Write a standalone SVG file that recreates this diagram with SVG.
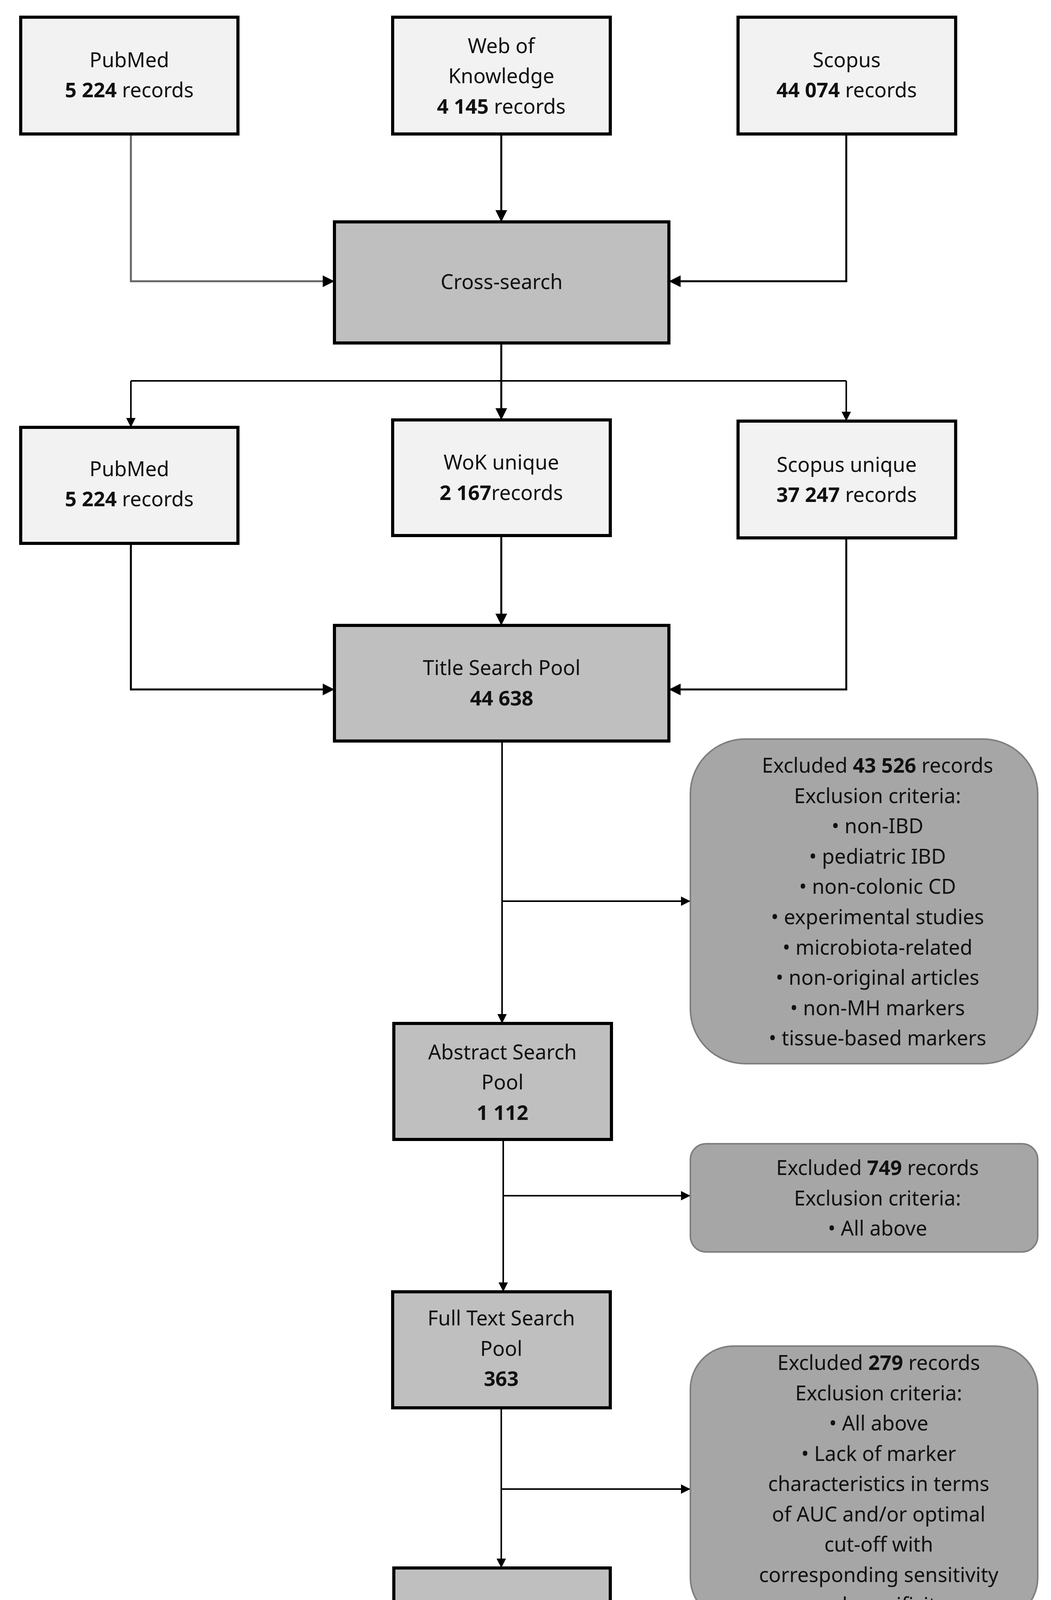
<svg xmlns="http://www.w3.org/2000/svg" width="2690" height="4337" viewBox="0 0 2690 4337">
<style>
text{font-family:"Noto Sans","Liberation Sans",sans-serif;font-size:52px;text-anchor:middle;fill:#111}
.b{font-weight:bold}
.l{fill:#f2f2f2;stroke:#000;stroke-width:8}
.m{fill:#bfbfbf;stroke:#000;stroke-width:8}
.x{fill:#a6a6a6;stroke:#7f7f7f;stroke-width:4}
.c{fill:none;stroke:#000;stroke-width:5}
</style>
<defs><marker id="a" viewBox="0 0 10 10" refX="10" refY="5" markerWidth="7" markerHeight="7" markerUnits="userSpaceOnUse" orient="auto"><path d="M0,0L10,5L0,10z" fill="#000"/></marker>
<marker id="ar" viewBox="0 0 10 10" refX="10" refY="5" markerWidth="6" markerHeight="6" orient="auto"><path d="M0,0L10,5L0,10z" fill="#000"/></marker></defs>
<g id="connectors">
<path class="c" d="M335,343V720H856" stroke="#666" style="stroke:#666" marker-end="url(#ar)"/>
<path class="c" d="M1283,343V568" marker-end="url(#ar)"/>
<path class="c" d="M2166,343V720H1712" marker-end="url(#ar)"/>
<path class="c" d="M1283,878V1075" marker-end="url(#ar)"/>
<path class="c" d="M335,975H2166" style="stroke-width:4"/>
<path class="c" d="M335,975V1094" style="stroke-width:4" marker-end="url(#ar)"/>
<path class="c" d="M2166,975V1078" style="stroke-width:4" marker-end="url(#ar)"/>
<path class="c" d="M335,1391V1765H856" marker-end="url(#ar)"/>
<path class="c" d="M1283,1371V1601" marker-end="url(#ar)"/>
<path class="c" d="M2166,1377V1765H1712" marker-end="url(#ar)"/>
<path class="c" d="M1285,1897V2620" style="stroke-width:4" marker-end="url(#ar)"/>
<path class="c" d="M1285,2307H1767" style="stroke-width:4" marker-end="url(#ar)"/>
<path class="c" d="M1288,2917V3307" style="stroke-width:4" marker-end="url(#ar)"/>
<path class="c" d="M1288,3061H1767" style="stroke-width:4" marker-end="url(#ar)"/>
<path class="c" d="M1283,3604V4014" style="stroke-width:4" marker-end="url(#ar)"/>
<path class="c" d="M1283,3812H1767" style="stroke-width:4" marker-end="url(#ar)"/>
</g>
<g id="pubmed1"><rect class="l" x="53" y="44" width="556" height="299"/><text x="331" y="172">PubMed</text><text x="331" y="249"><tspan class="b">5 224</tspan> records</text></g>
<g id="wok1"><rect class="l" x="1005" y="44" width="557" height="299"/><text x="1283" y="136">Web of</text><text x="1283" y="213">Knowledge</text><text x="1283" y="291"><tspan class="b">4 145</tspan> records</text></g>
<g id="scopus1"><rect class="l" x="1889" y="44" width="557" height="299"/><text x="2167" y="172">Scopus</text><text x="2167" y="249"><tspan class="b">44 074</tspan> records</text></g>
<g id="cross"><rect class="m" x="856" y="568" width="856" height="310"/><text x="1284" y="740">Cross-search</text></g>
<g id="pubmed2"><rect class="l" x="53" y="1094" width="556" height="297"/><text x="331" y="1219">PubMed</text><text x="331" y="1296"><tspan class="b">5 224</tspan> records</text></g>
<g id="wok2"><rect class="l" x="1005" y="1075" width="557" height="296"/><text x="1283" y="1202">WoK unique</text><text x="1283" y="1280"><tspan class="b">2 167</tspan>records</text></g>
<g id="scopus2"><rect class="l" x="1889" y="1078" width="557" height="299"/><text x="2167" y="1208">Scopus unique</text><text x="2167" y="1285"><tspan class="b">37 247</tspan> records</text></g>
<g id="title"><rect class="m" x="856" y="1601" width="856" height="296"/><text x="1284" y="1728">Title Search Pool</text><text x="1284" y="1806" class="b">44 638</text></g>
<g id="excl1"><rect class="x" x="1767" y="1892" width="889" height="831" rx="140"/>
<text x="2246" y="1978">Excluded <tspan class="b">43 526</tspan> records</text>
<text x="2246" y="2056">Exclusion criteria:</text>
<text x="2246" y="2133">•   non-IBD</text>
<text x="2246" y="2211">•   pediatric IBD</text>
<text x="2246" y="2288">•   non-colonic CD</text>
<text x="2246" y="2366">•   experimental studies</text>
<text x="2246" y="2444">•   microbiota-related</text>
<text x="2246" y="2521">•   non-original articles</text>
<text x="2246" y="2599">•   non-MH markers</text>
<text x="2246" y="2676">•   tissue-based markers</text></g>
<g id="abstract"><rect class="m" x="1008" y="2620" width="557" height="297"/><text x="1286" y="2712">Abstract Search</text><text x="1286" y="2789">Pool</text><text x="1286" y="2867" class="b">1 112</text></g>
<g id="excl2"><rect class="x" x="1767" y="2928" width="889" height="277" rx="40"/>
<text x="2246" y="3008">Excluded <tspan class="b">749</tspan> records</text><text x="2246" y="3086">Exclusion criteria:</text><text x="2246" y="3163">•   All above</text></g>
<g id="fulltext"><rect class="m" x="1005" y="3307" width="557" height="297"/><text x="1283" y="3393">Full Text Search</text><text x="1283" y="3471">Pool</text><text x="1283" y="3548" class="b">363</text></g>
<g id="excl3"><rect class="x" x="1767" y="3446" width="889" height="703" rx="110"/>
<text x="2249" y="3507">Excluded <tspan class="b">279</tspan> records</text>
<text x="2249" y="3585">Exclusion criteria:</text>
<text x="2249" y="3662">•   All above</text>
<text x="2249" y="3740">•   Lack of marker</text>
<text x="2249" y="3817">characteristics in terms</text>
<text x="2249" y="3895">of AUC and/or optimal</text>
<text x="2249" y="3972">cut-off with</text>
<text x="2249" y="4050">corresponding sensitivity</text>
<text x="2249" y="4127">and specificity</text></g>
<g id="source"><rect class="m" x="1008" y="4014" width="554" height="296"/><text x="1285" y="4144">Source Literature</text><text x="1285" y="4222" class="b">84 records</text></g>
</svg>
